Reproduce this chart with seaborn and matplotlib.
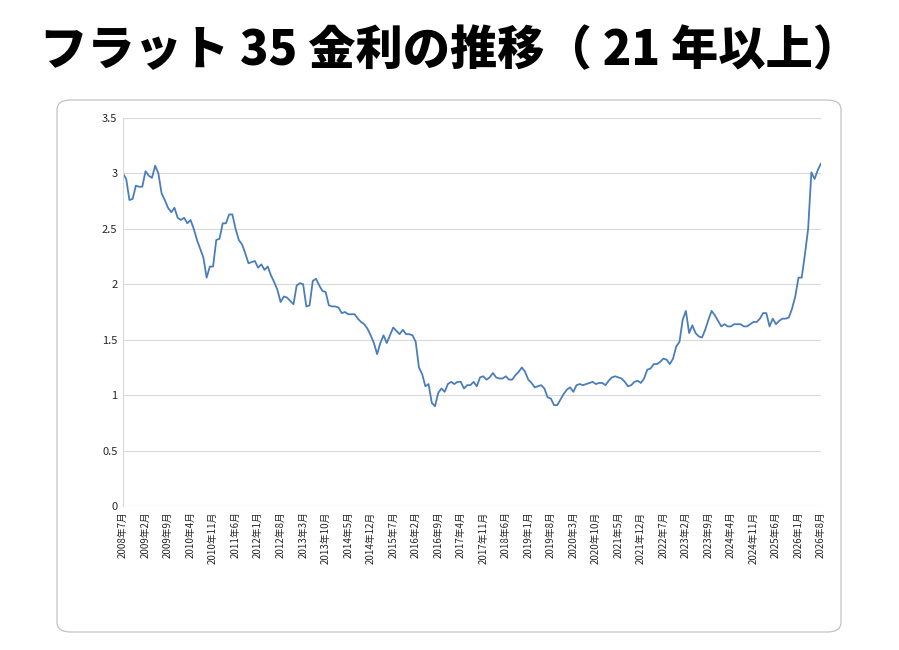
import numpy as np
import pandas as pd
import matplotlib.pyplot as plt
import seaborn as sns
from matplotlib.patches import FancyBboxPatch

# monthly rate (%) from 2008-07 to 2026-08
y2008 = [3.0, 2.95, 2.76, 2.77, 2.89, 2.88]
y2009 = [2.88, 3.02, 2.98, 2.96, 3.07, 3.0, 2.82, 2.76, 2.69, 2.65, 2.69, 2.6]
y2010 = [2.58, 2.6, 2.55, 2.58, 2.5, 2.4, 2.32, 2.24, 2.06, 2.16, 2.16, 2.4]
y2011 = [2.41, 2.55, 2.55, 2.63, 2.63, 2.5, 2.4, 2.36, 2.28, 2.19, 2.2, 2.21]
y2012 = [2.15, 2.18, 2.13, 2.16, 2.08, 2.02, 1.95, 1.84, 1.89, 1.88, 1.85, 1.82]
y2013 = [1.99, 2.01, 2.0, 1.8, 1.81, 2.03, 2.05, 1.99, 1.94, 1.93, 1.81, 1.8]
y2014 = [1.8, 1.79, 1.74, 1.75, 1.73, 1.73, 1.73, 1.69, 1.66, 1.64, 1.6, 1.54]
y2015 = [1.47, 1.37, 1.47, 1.54, 1.47, 1.54, 1.61, 1.58, 1.55, 1.59, 1.55, 1.55]
y2016 = [1.54, 1.48, 1.25, 1.19, 1.08, 1.1, 0.93, 0.9, 1.02, 1.06, 1.03, 1.1]
y2017 = [1.12, 1.1, 1.12, 1.12, 1.06, 1.09, 1.09, 1.12, 1.08, 1.16, 1.17, 1.14]
y2018 = [1.16, 1.2, 1.16, 1.15, 1.15, 1.17, 1.14, 1.14, 1.18, 1.21, 1.25, 1.21]
y2019 = [1.14, 1.11, 1.07, 1.08, 1.09, 1.06, 0.98, 0.97, 0.91, 0.91, 0.96, 1.01]
y2020 = [1.05, 1.07, 1.03, 1.09, 1.1, 1.09, 1.1, 1.11, 1.12, 1.1, 1.11, 1.11]
y2021 = [1.09, 1.13, 1.16, 1.17, 1.16, 1.15, 1.12, 1.08, 1.09, 1.12, 1.13, 1.11]
y2022 = [1.15, 1.23, 1.24, 1.28, 1.28, 1.3, 1.33, 1.32, 1.28, 1.33, 1.44, 1.48]
y2023 = [1.68, 1.76, 1.56, 1.63, 1.56, 1.53, 1.52, 1.59, 1.68, 1.76, 1.72, 1.67]
y2024 = [1.62, 1.64, 1.62, 1.62, 1.64, 1.64, 1.64, 1.62, 1.62, 1.64, 1.66, 1.66]
y2025 = [1.69, 1.74, 1.74, 1.62, 1.69, 1.64, 1.67, 1.69, 1.69, 1.7, 1.78, 1.89]
y2026 = [2.06, 2.06, 2.27, 2.5, 3.01, 2.95, 3.03, 3.09]

rates = (y2008 + y2009 + y2010 + y2011 + y2012 + y2013 + y2014 + y2015 + y2016
         + y2017 + y2018 + y2019 + y2020 + y2021 + y2022 + y2023 + y2024 + y2025 + y2026)

labels = []
for i in range(len(rates)):
    m = 7 + i
    yr = 2008 + (m - 1) // 12
    mo = (m - 1) % 12 + 1
    labels.append(f"{yr}年{mo}月")

df = pd.DataFrame({"idx": range(len(rates)), "rate": rates})

sns.set_style("white")
plt.rcParams['font.family'] = ['Noto Sans CJK JP', 'DejaVu Sans']

fig = plt.figure(figsize=(8.99, 6.5), dpi=100)
fig.patches.append(FancyBboxPatch((57 / 899, 18 / 650), 784 / 899, 532 / 650,
                                  boxstyle="round,pad=0,rounding_size=0.015",
                                  transform=fig.transFigure, fill=False,
                                  edgecolor="#bbbbbb", linewidth=0.8))
fig.text(0.5, 0.922, "フラット 35 金利の推移（ 21 年以上）", ha="center", va="center",
         fontsize=34, fontweight="black", color="black")

ax = fig.add_axes([123 / 899, 144 / 650, 698 / 899, 388 / 650])
sns.lineplot(data=df, x="idx", y="rate", ax=ax, color="#4a7ebb", linewidth=1.3)
ax.set_xlim(0, len(rates) - 1)
ax.set_ylim(0, 3.5)
ax.set_yticks(np.arange(0, 3.51, 0.5))
ax.set_yticklabels(["0", "0.5", "1", "1.5", "2", "2.5", "3", "3.5"], fontsize=8)
ticks = list(range(0, len(rates), 7))
ax.set_xticks(ticks)
ax.set_xticklabels([labels[t] for t in ticks], rotation=90, fontsize=7)
ax.tick_params(axis="both", length=0, pad=4)
ax.yaxis.grid(True, color="#d9d9d9", linewidth=0.8)
ax.set_xlabel("")
ax.set_ylabel("")
for s in ["top", "right", "bottom"]:
    ax.spines[s].set_visible(False)
ax.spines["left"].set_color("#d9d9d9")

fig.savefig("out.png", dpi=100)
